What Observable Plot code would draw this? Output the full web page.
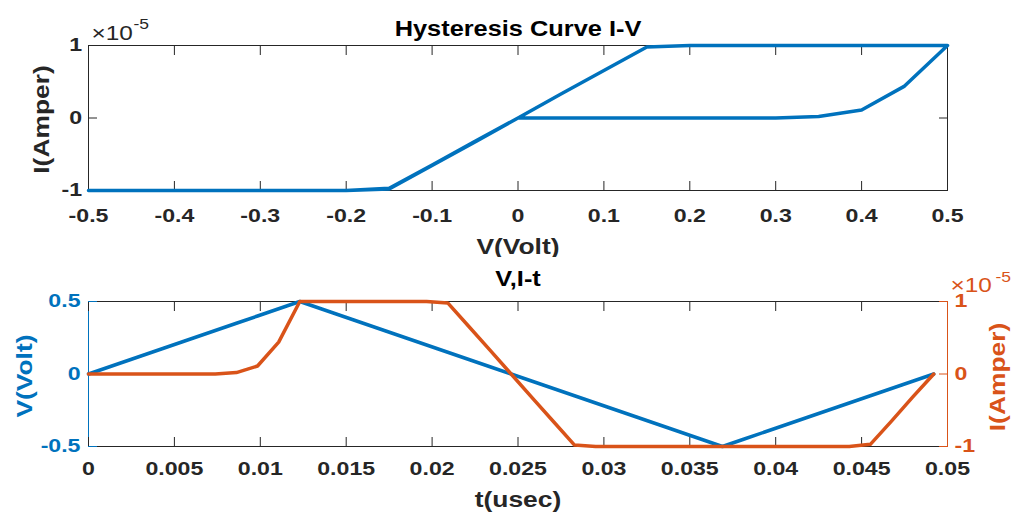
<!DOCTYPE html>
<html><head><meta charset="utf-8">
<script src="https://cdn.jsdelivr.net/npm/d3@7"></script>
<script src="https://cdn.jsdelivr.net/npm/@observablehq/plot@0.6"></script>
<style>
html,body{margin:0;padding:0;background:#fff;}
#top,#bottom{position:relative;width:1011px;height:257px;overflow:visible;}
#top svg,#bottom svg{position:absolute;left:0;top:0;}
</style></head><body>
<div id="top"></div><div id="bottom"></div>
<script>
// time (usec)
const tVals = [0, 0.00123, 0.00246, 0.00369, 0.00492, 0.00615, 0.00738, 0.00861, 0.00984, 0.01107,
  0.0123, 0.01353, 0.01476, 0.01599, 0.01722, 0.01845, 0.01968, 0.02091, 0.02214, 0.02337,
  0.0246, 0.02583, 0.02706, 0.02829, 0.02952, 0.03075, 0.03198, 0.03321, 0.03444, 0.03567,
  0.0369, 0.03813, 0.03936, 0.04059, 0.04182, 0.04305, 0.04428, 0.04551, 0.04674, 0.04797, 0.0492];
// voltage (Volt)
const vVals = [0, 0.05, 0.1, 0.15, 0.2, 0.25, 0.3, 0.35, 0.4, 0.45,
  0.5, 0.45, 0.4, 0.35, 0.3, 0.25, 0.2, 0.15, 0.1, 0.05,
  0, -0.05, -0.1, -0.15, -0.2, -0.25, -0.3, -0.35, -0.4, -0.45,
  -0.5, -0.45, -0.4, -0.35, -0.3, -0.25, -0.2, -0.15, -0.1, -0.05, 0];
// current (Amper, in units of 1e-5)
const iVals = [0, 0, 0, 0, 0, 0, 0, 0.02, 0.11, 0.44,
  1, 1, 1, 1, 1, 1, 1, 0.98, 0.655, 0.33,
  0, -0.33, -0.655, -0.98, -1, -1, -1, -1, -1, -1,
  -1, -1, -1, -1, -1, -1, -1, -0.97, -0.65, -0.32, 0];
const exponentText = "×10";
const exponentSup = "-5";

const vTicks = [-0.5, -0.4, -0.3, -0.2, -0.1, 0, 0.1, 0.2, 0.3, 0.4, 0.5];
const iTicks = [-1, 0, 1];
const tTicks = [0, 0.005, 0.01, 0.015, 0.02, 0.025, 0.03, 0.035, 0.04, 0.045, 0.05];
const vTicksB = [-0.5, 0, 0.5];

const title1 = "Hysteresis Curve I-V";
const title2 = "V,I-t";
const xLabel1 = "V(Volt)";
const yLabel1 = "I(Amper)";
const xLabel2 = "t(usec)";
const yLabel2 = "V(Volt)";
const yLabel2r = "I(Amper)";

const BLUE = "#0072BD", ORANGE = "#D95319", AX = "#262626";
const FONT = "'Liberation Sans', Arial, Helvetica, sans-serif";
const rows = tVals.map((t, k) => ({t, V: vVals[k], I: iVals[k]}));
const fmt = d => String(d);
const blank = () => "";

const STRETCH = {"18.5": 1.25, "22": 1.2, "21.5": 1.18, "19.5": 1.25, "14": 1.25};
function stretch(svg) {
  svg.querySelectorAll("text").forEach(el => {
    const g = el.closest("[font-size]");
    const fs = g ? g.getAttribute("font-size") : null;
    const sx = STRETCH[fs] || 1.2;
    const x = el.getAttribute("x");
    if (x !== null && !isNaN(+x)) el.setAttribute("x", +x / sx);
    el.setAttribute("transform", (el.getAttribute("transform") || "") + ` scale(${sx},1)`);
  });
  return svg;
}

const baseStyle = {fontFamily: FONT, fontWeight: "bold", fontSize: "18.5px", color: AX, background: "white", overflow: "visible"};
const dims = {width: 1011, height: 257, marginLeft: 88, marginRight: 64};

const topPlot = Plot.plot({
  ...dims, marginTop: 45, marginBottom: 67,
  style: baseStyle,
  x: {domain: [-0.5, 0.5]},
  y: {domain: [-1, 1]},
  marks: [
    Plot.frame({stroke: AX, strokeWidth: 1}),
    Plot.axisX({anchor: "bottom", ticks: vTicks, tickSize: -9, tickPadding: 27.5, tickFormat: fmt, fontSize: 18.5, label: null}),
    Plot.axisX({anchor: "top", ticks: vTicks, tickSize: -9, tickFormat: blank, label: null}),
    Plot.axisY({anchor: "left", ticks: iTicks, tickSize: -9, tickPadding: 15.5, tickFormat: fmt, fontSize: 18.5, label: null}),
    Plot.axisY({anchor: "right", ticks: iTicks, tickSize: -9, tickFormat: blank, label: null}),
    Plot.line(rows, {x: "V", y: "I", stroke: BLUE, strokeWidth: 3.5, strokeLinejoin: "round"}),
    Plot.text([title1], {frameAnchor: "top", textAnchor: "middle", lineAnchor: "bottom", dy: -10, fontSize: 21.5, fill: "#000"}),
    Plot.text([xLabel1], {frameAnchor: "bottom", textAnchor: "middle", lineAnchor: "bottom", dy: 63.3, fontSize: 22}),
    Plot.text([yLabel1], {frameAnchor: "left", rotate: -90, textAnchor: "middle", lineAnchor: "bottom", dx: -39.5, dy: 1.5, fontSize: 22}),
    Plot.text([exponentText], {frameAnchor: "top-left", textAnchor: "start", lineAnchor: "bottom", dx: 3, dy: -6, fontSize: 19.5, fontWeight: "normal"}),
    Plot.text([exponentSup], {frameAnchor: "top-left", textAnchor: "start", lineAnchor: "bottom", dx: 45, dy: -16.7, fontSize: 14, fontWeight: "normal"})
  ]
});

const botPlot = Plot.plot({
  ...dims, marginTop: 44, marginBottom: 68,
  style: baseStyle,
  x: {domain: [0, 0.05]},
  y: {domain: [-0.5, 0.5]},
  marks: [
    Plot.frame({stroke: AX, strokeWidth: 1}),
    Plot.frame({anchor: "left", stroke: BLUE, strokeWidth: 1}),
    Plot.axisX({anchor: "bottom", ticks: tTicks, tickSize: -9, tickPadding: 24.5, tickFormat: fmt, fontSize: 18.5, label: null}),
    Plot.axisX({anchor: "top", ticks: tTicks, tickSize: -9, tickFormat: blank, label: null}),
    Plot.axisY({anchor: "left", ticks: vTicksB, tickSize: -9, tickPadding: 17, tickFormat: fmt, fontSize: 18.5, label: null, color: BLUE, stroke: BLUE, fill: BLUE}),
    Plot.line(rows, {x: "t", y: "V", stroke: BLUE, strokeWidth: 3.5, strokeLinejoin: "round"}),
    Plot.text([title2], {frameAnchor: "top", textAnchor: "middle", lineAnchor: "bottom", dy: -16, fontSize: 21.5, fill: "#000"}),
    Plot.text([xLabel2], {frameAnchor: "bottom", textAnchor: "middle", lineAnchor: "bottom", dy: 60.5, fontSize: 22}),
    Plot.text([yLabel2], {frameAnchor: "left", rotate: -90, textAnchor: "middle", lineAnchor: "bottom", dx: -57, dy: 2, fontSize: 22, fill: BLUE})
  ]
});

const ovlPlot = Plot.plot({
  ...dims, marginTop: 44, marginBottom: 68,
  style: {...baseStyle, background: "transparent"},
  x: {domain: [0, 0.05], axis: null},
  y: {domain: [-1, 1], axis: null},
  marks: [
    Plot.frame({anchor: "right", stroke: ORANGE, strokeWidth: 1}),
    Plot.axisY({anchor: "right", ticks: iTicks, tickSize: -9, tickPadding: 16, tickFormat: fmt, fontSize: 18.5, label: null, color: ORANGE, stroke: ORANGE, fill: ORANGE}),
    Plot.line(rows, {x: "t", y: "I", stroke: ORANGE, strokeWidth: 3.5, strokeLinejoin: "round"}),
    Plot.text([yLabel2r], {frameAnchor: "right", rotate: -90, textAnchor: "middle", lineAnchor: "bottom", dx: 57, dy: 3, fontSize: 22, fill: ORANGE}),
    Plot.text([exponentText], {frameAnchor: "top-right", textAnchor: "start", lineAnchor: "bottom", dx: 3, dy: -10, fontSize: 19.5, fontWeight: "normal", fill: ORANGE}),
    Plot.text([exponentSup], {frameAnchor: "top-right", textAnchor: "start", lineAnchor: "bottom", dx: 48, dy: -19.7, fontSize: 14, fontWeight: "normal", fill: ORANGE})
  ]
});

document.getElementById("top").append(stretch(topPlot));
document.getElementById("bottom").append(stretch(botPlot), stretch(ovlPlot));
</script>
</body></html>
